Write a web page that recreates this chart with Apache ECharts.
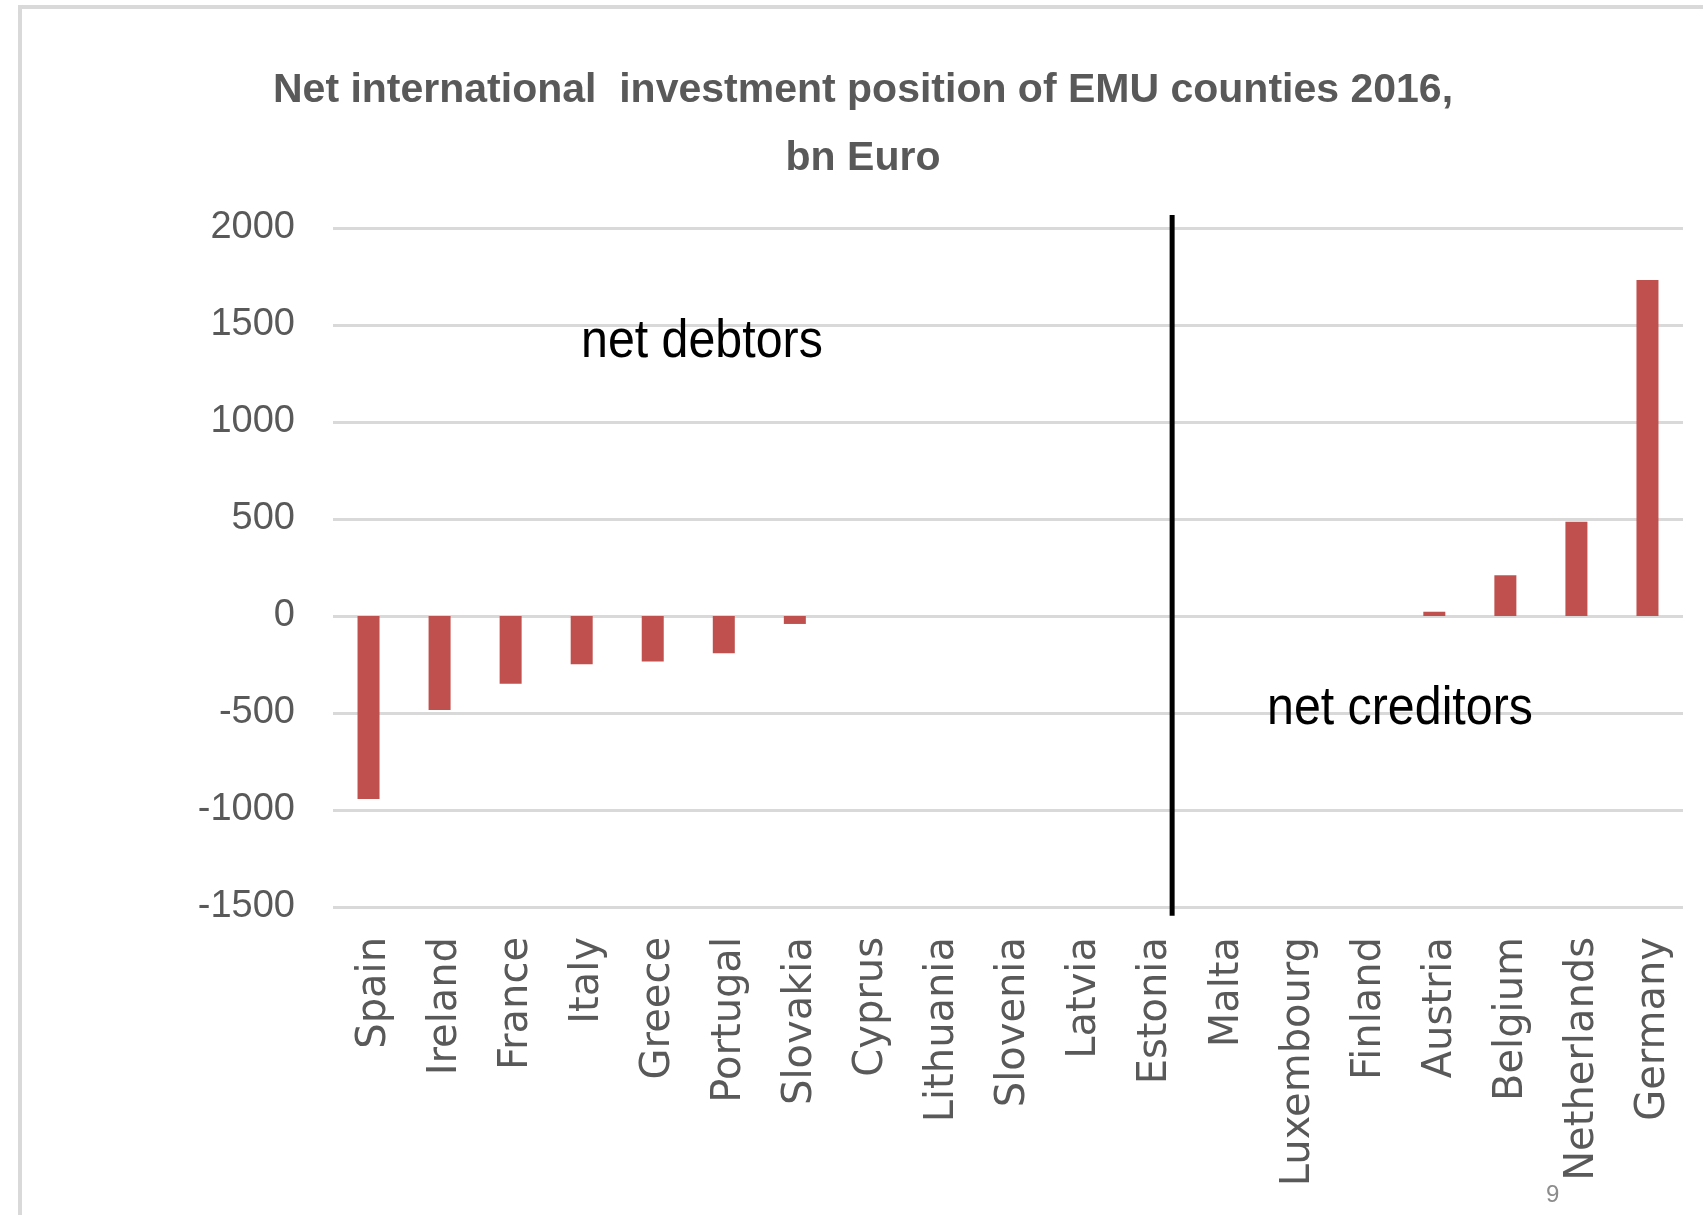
<!DOCTYPE html>
<html>
<head>
<meta charset="utf-8">
<title>Net international investment position of EMU countries 2016</title>
<script src="https://cdn.jsdelivr.net/npm/echarts@6/dist/echarts.min.js"></script>
<style>
  html, body { margin: 0; padding: 0; background: #ffffff; }
  #frame { position: absolute; left: 18px; top: 5px; right: -10px; bottom: -10px;
           border: 4px solid #d9d9d9; }
  #chart { position: absolute; left: 0; top: 0; width: 1703px; height: 1215px; }
</style>
</head>
<body>
<div id="frame"></div>
<div id="chart"></div>
<script>
// Countries ordered from largest net debtor to largest net creditor
const countries = ['Spain', 'Ireland', 'France', 'Italy', 'Greece', 'Portugal', 'Slovakia',
  'Cyprus', 'Lithuania', 'Slovenia', 'Latvia', 'Estonia', 'Malta', 'Luxembourg',
  'Finland', 'Austria', 'Belgium', 'Netherlands', 'Germany'];

// Net international investment position, bn Euro
const niip = [-943, -485, -349, -249, -235, -192, -41,
  0, 0, 0, 0, 0, 0, 0,
  0, 22, 210, 486, 1732];

// Value axis ticks
const yTicks = [-1500, -1000, -500, 0, 500, 1000, 1500, 2000];

const titleText = 'Net international  investment position of EMU counties 2016,\nbn Euro';

const chart = echarts.init(document.getElementById('chart'), null, { renderer: 'canvas' });

const option = {
  backgroundColor: 'transparent',
  animation: false,
  title: {
    text: titleText,
    left: 858,
    textAlign: 'center',
    top: 52,
    textStyle: {
      fontFamily: '"Liberation Sans", sans-serif',
      fontWeight: 'bold',
      fontSize: 41,
      lineHeight: 68,
      color: '#595959'
    }
  },
  grid: { left: 333, right: 20, top: 228, bottom: 308, containLabel: false },
  xAxis: {
    type: 'category',
    data: countries,
    axisLine: { show: false },
    axisTick: { show: false },
    axisLabel: {
      interval: 0,
      rotate: 90,
      margin: 30,
      formatter: (name) => '{c|' + name + '}',
      rich: {
        c: {
          padding: [12, 0, 0, 0],
          fontFamily: '"DejaVu Sans", sans-serif',
          fontSize: 40,
          color: '#595959'
        }
      }
    }
  },
  yAxis: {
    type: 'value',
    min: yTicks[0],
    max: yTicks[yTicks.length - 1],
    interval: 500,
    axisLine: { show: false },
    axisTick: { show: false },
    axisLabel: {
      margin: 38,
      fontFamily: '"Liberation Sans", sans-serif',
      fontSize: 38,
      color: '#595959',
      formatter: (v) => String(v)
    },
    splitLine: { lineStyle: { color: '#d9d9d9', width: 3 } }
  },
  series: [{
    type: 'bar',
    data: niip,
    barWidth: 22,
    itemStyle: { color: '#c0504d' }
  }]
};

chart.setOption(option);

// Divider between net debtors and net creditors, drawn between Estonia and Malta
const xE = chart.convertToPixel({ xAxisIndex: 0 }, 'Estonia');
const xM = chart.convertToPixel({ xAxisIndex: 0 }, 'Malta');
const xDiv = xE + (xM - xE) * 0.31;
const yTop = chart.convertToPixel({ yAxisIndex: 0 }, 2067);
const yBot = chart.convertToPixel({ yAxisIndex: 0 }, -1545);

const noteFont = '54px "Liberation Sans", sans-serif';

chart.setOption({
  graphic: [
    {
      type: 'line',
      shape: { x1: xDiv, y1: yTop, x2: xDiv, y2: yBot },
      style: { stroke: '#000000', lineWidth: 5 },
      z: 10
    },
    {
      type: 'text',
      x: 581, y: 315,
      scaleX: 0.895,
      style: { text: 'net debtors', font: noteFont, fill: '#000000' },
      z: 10
    },
    {
      type: 'text',
      x: 1267, y: 682,
      scaleX: 0.895,
      style: { text: 'net creditors', font: noteFont, fill: '#000000' },
      z: 10
    },
    {
      type: 'text',
      x: 1546, y: 1183,
      style: { text: '9', font: '24px "Liberation Sans", sans-serif', fill: '#8c8c8c' },
      z: 10
    }
  ]
});
</script>
</body>
</html>
